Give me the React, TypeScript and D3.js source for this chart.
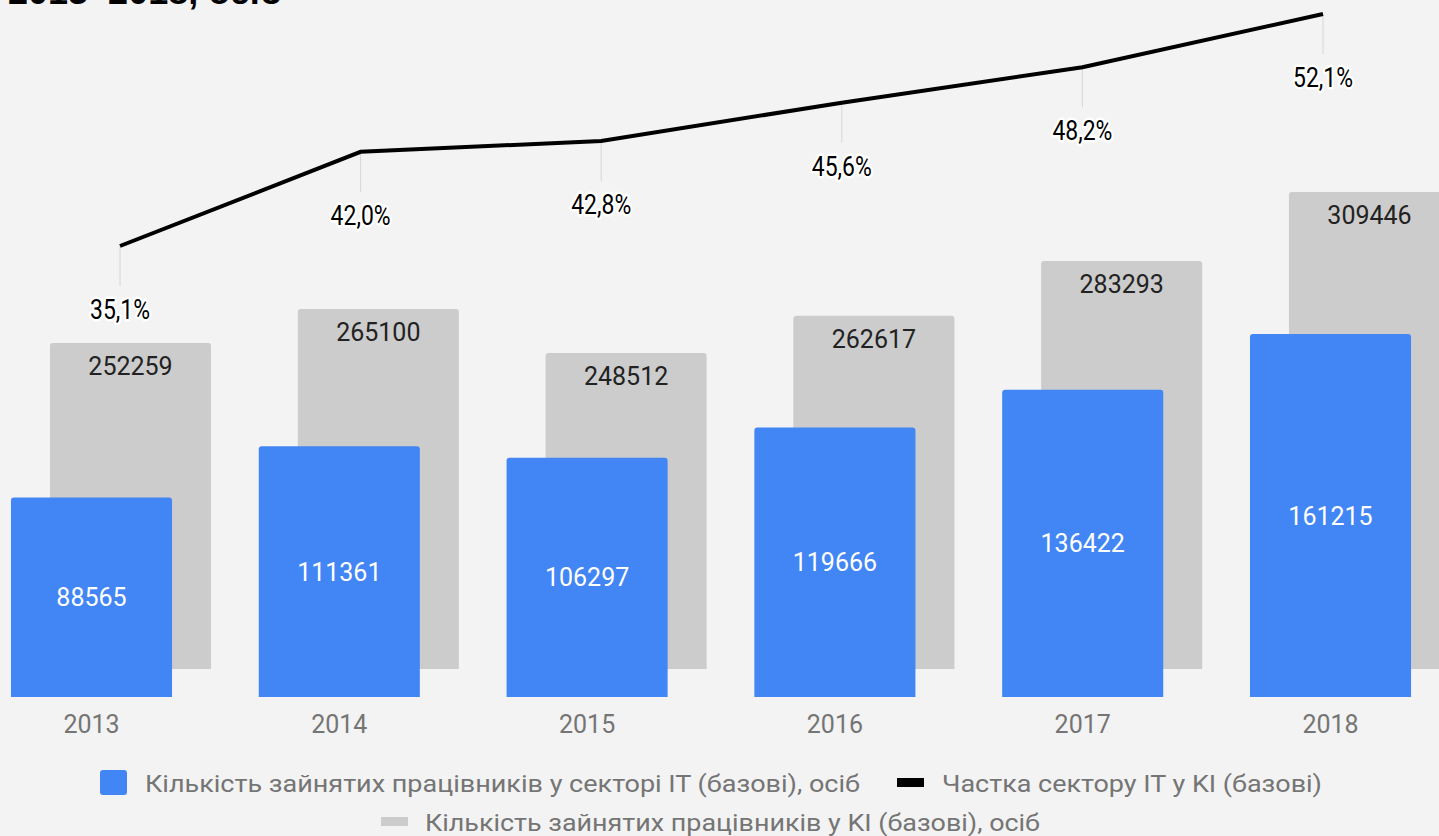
import * as d3 from "d3";

const W = 1439;
const H = 836;

const years = ["2013", "2014", "2015", "2016", "2017", "2018"];
const itWorkers = [88565, 111361, 106297, 119666, 136422, 161215];
const kiWorkers = [252259, 265100, 248512, 262617, 283293, 309446];
const itShare = [35.1, 42.0, 42.8, 45.6, 48.2, 52.1];
const shareLabels = ["35,1%", "42,0%", "42,8%", "45,6%", "48,2%", "52,1%"];

const legendIt = "Кількість зайнятих працівників у секторі IT (базові), осіб";
const legendShare = "Частка сектору IT у KI (базові)";
const legendKi = "Кількість зайнятих працівників у KI (базові), осіб";

const BLUE = "#4285f4";
const GRAY = "#cccccc";
const FONT = "Roboto, sans-serif";

// gray bars are drawn shifted right/up behind the blue ones
const SHIFT_X = 39;
const SHIFT_Y = 28;

const topRounded = (x: number, y: number, w: number, h: number, r: number) =>
  `M${x},${y + h}V${y + r}Q${x},${y} ${x + r},${y}H${x + w - r}Q${x + w},${y} ${x + w},${y + r}V${y + h}Z`;

export default function App() {
  const x = d3
    .scaleBand<string>()
    .domain(years)
    .range([-32.4, 1454.4])
    .paddingInner(0.35)
    .paddingOuter(0.175);

  const yIt = d3.scaleLinear().domain([0, 161215]).range([697, 334]);
  const yKi = d3.scaleLinear().domain([128800, 309446]).range([697 - SHIFT_Y, 192]);

  const xLine = d3.scalePoint<string>().domain(years).range([120, 1323]);
  const yLine = d3.scaleLinear().domain([35.1, 52.1]).range([246, 14]);

  const line = d3
    .line<number>()
    .x((_, i) => xLine(years[i])!)
    .y((d) => yLine(d));

  const bw = x.bandwidth();

  return (
    <svg
      width={W}
      height={H}
      style={{ position: "absolute", left: 0, top: 0, background: "#f3f3f3" }}
    >
      <rect width={W} height={H} fill="#f3f3f3" />
      {/* title, cut off at the top edge as in the source */}
      <text
        x={8}
        y={4}
        fontFamily="'Liberation Sans', Arial, sans-serif"
        fontWeight="bold"
        fontSize={36}
        fill="#000"
      >
        2013–2018, осіб
      </text>

      {/* gray bars (KI) */}
      {years.map((yr, i) => {
        const bx = x(yr)! + SHIFT_X;
        const by = yKi(kiWorkers[i]);
        return (
          <g key={`ki-${yr}`}>
            <path d={topRounded(bx, by, bw, 697 - SHIFT_Y - by, 3)} fill={GRAY} />
            <text
              x={bx + bw / 2}
              y={by + 32}
              textAnchor="middle"
              fontFamily={FONT}
              fontSize={25}
              fill="#222"
            >
              {kiWorkers[i]}
            </text>
          </g>
        );
      })}

      {/* blue bars (IT) */}
      {years.map((yr, i) => {
        const bx = x(yr)!;
        const by = yIt(itWorkers[i]);
        return (
          <g key={`it-${yr}`}>
            <path d={topRounded(bx, by, bw, 697 - by, 3)} fill={BLUE} />
            <text
              x={bx + bw / 2}
              y={(by + 697) / 2 + 9}
              textAnchor="middle"
              fontFamily={FONT}
              fontSize={25}
              fill="#fff"
            >
              {itWorkers[i]}
            </text>
            <text
              x={bx + bw / 2}
              y={733}
              textAnchor="middle"
              fontFamily={FONT}
              fontSize={25}
              fill="#757575"
            >
              {yr}
            </text>
          </g>
        );
      })}

      {/* share line */}
      {years.map((yr, i) => (
        <line
          key={`lead-${yr}`}
          x1={xLine(yr)}
          x2={xLine(yr)}
          y1={yLine(itShare[i])}
          y2={yLine(itShare[i]) + 40}
          stroke="#d6d6d6"
          strokeWidth={1}
        />
      ))}
      <path d={line(itShare) ?? undefined} fill="none" stroke="#000" strokeWidth={4} />
      {years.map((yr, i) => (
        <text
          key={`share-${yr}`}
          x={xLine(yr)}
          y={yLine(itShare[i]) + 73}
          textAnchor="middle"
          fontFamily={FONT}
          fontSize={28}
          fill="#000"
          stroke="#fff"
          strokeWidth={5}
          strokeLinejoin="round"
          paintOrder="stroke"
          textLength={60}
          lengthAdjust="spacingAndGlyphs"
        >
          {shareLabels[i]}
        </text>
      ))}

      {/* legend */}
      <g fontFamily={FONT} fontSize={24} fill="#757575">
        <rect x={100} y={770} width={27} height={25} rx={3} fill={BLUE} />
        <text x={145} y={792} textLength={715} lengthAdjust="spacingAndGlyphs">
          {legendIt}
        </text>
        <rect x={897} y={778} width={27} height={9} fill="#000" />
        <text x={942} y={792} textLength={380} lengthAdjust="spacingAndGlyphs">
          {legendShare}
        </text>
        <rect x={381} y={817} width={27} height={9} fill={GRAY} />
        <text x={425} y={831} textLength={615} lengthAdjust="spacingAndGlyphs">
          {legendKi}
        </text>
      </g>
    </svg>
  );
}
